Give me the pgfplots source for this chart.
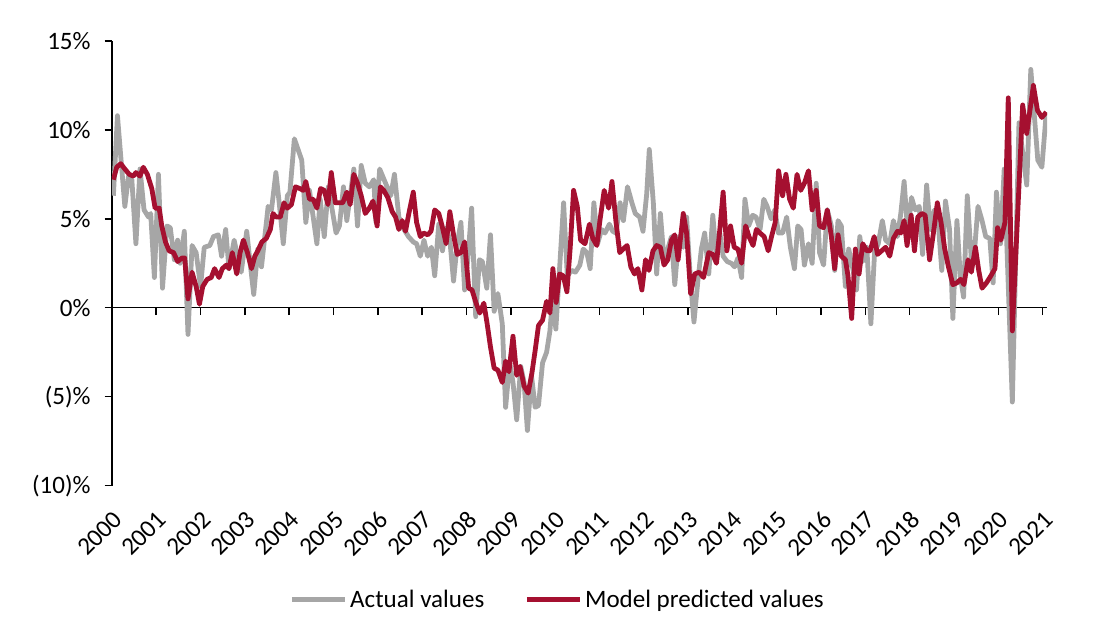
\documentclass[border=0pt]{standalone}
\usepackage{fontspec}
\setmainfont{Carlito}
\usepackage{pgfplots}
\pgfplotsset{compat=1.18}
\usetikzlibrary{calc}
\definecolor{grayline}{RGB}{166,166,166}
\definecolor{redline}{RGB}{165,16,48}
\begin{document}
\begin{tikzpicture}
\begin{axis}[
  scale only axis,
  width=701.9pt, height=333.75pt,
  xmin=0, xmax=253.2, ymin=-10, ymax=15,
  axis y line=left, axis x line=middle,
  every inner x axis line/.append style={-},
  every outer x axis line/.append style={-},
  every inner y axis line/.append style={-},
  every outer y axis line/.append style={-},
  axis line style={black, line width=1.1pt},
  hide obscured x ticks=false, hide obscured y ticks=false,
  xtick={0,12,...,252},
  xticklabels={2000,2001,2002,2003,2004,2005,2006,2007,2008,2009,2010,2011,2012,2013,2014,2015,2016,2017,2018,2019,2020,2021},
  ytick={-10,-5,0,5,10,15},
  yticklabels={(10)\%,(5)\%,0\%,5\%,10\%,15\%},
  tick align=outside,
  major tick length=5.5pt,
  tick style={black, line width=1.1pt},
  tick label style={font=\fontsize{18.8}{22}\selectfont},
  xticklabel style={rotate=45, anchor=north east},
  xticklabel shift=141pt,
  yticklabel style={anchor=east, xshift=-7pt},
  /pgf/number format/assume math mode=true,
  legend style={at={(0.477,-0.256)}, anchor=center, draw=none, fill=none,
    font=\fontsize{18.8}{22}\selectfont, legend columns=2,
    /tikz/every even column/.append style={column sep=28pt}},
  legend cell align=left,
  legend image code/.code={\draw[#1] (0pt,0pt) -- (40pt,0pt);},
]
\coordinate (ll) at (rel axis cs:0,0);
\coordinate (ur) at (rel axis cs:1,1);
\addplot[grayline, line width=3.6pt, line join=round] coordinates {
(0.4,6.3) (1.5,10.8) (2.4,8.5) (3.5,5.7) (4.5,7.4) (5.4,7.2) (6.5,3.6) (7.6,7.8) (8.7,5.5) (9.9,5.1) (10.5,5.3) (11.5,1.7) (12.6,7.5) (13.7,1.1) (14.9,4.6) (15.8,4.5) (16.9,2.7) (17.8,3.8) (18.5,2.5) (19.6,4.3) (20.6,-1.5) (21.7,3.5) (22.8,3.1) (24,1.2) (25,3.4) (26.5,3.5) (27.5,4.0) (28.8,4.1) (29.7,2.9) (30.8,4.4) (31.7,2.2) (33.1,3.8) (34,2.9) (35,2.0) (36.5,4.3) (37.6,2.2) (38.4,0.75) (39.5,3.3) (40.5,2.3) (42.3,5.7) (43.2,5.5) (44.4,7.6) (45.3,5.9) (46.4,3.6) (47.5,6.3) (48.2,6.5) (49.4,9.5) (51.4,8.3) (52.5,4.8) (53.5,6.6) (55.5,3.6) (56.4,6.1) (57.5,4.0) (58.6,6.8) (60.7,4.2) (61.6,4.6) (62.7,6.8) (63.6,4.9) (65.5,7.8) (66.5,4.6) (67.5,8.0) (68.6,7.0) (69.7,6.8) (70.9,7.2) (71.5,4.8) (72.5,7.8) (74.1,7.0) (75.5,6.3) (76.5,7.5) (77.7,5.1) (79.1,4.4) (80.3,4.0) (81.6,3.7) (82.5,3.6) (83.5,2.9) (84.5,3.8) (85.5,2.9) (86.5,3.4) (87.4,1.8) (88.5,4.7) (89.5,3.2) (90.5,4.5) (91.5,3.8) (92.5,1.5) (93.5,3.6) (94.5,4.8) (95.5,1.0) (96.4,2.8) (97.4,5.6) (98.5,-0.5) (99.5,2.7) (100.3,2.6) (101.5,1.1) (102.5,4.1) (103.5,-0.2) (104.5,0.8) (105.7,-0.9) (106.6,-5.6) (107.7,-3.1) (108.6,-4.2) (109.6,-6.3) (110.7,-3.3) (111.6,-4.2) (112.5,-6.9) (113.6,-3.8) (114.6,-5.6) (115.5,-5.5) (116.6,-3.1) (117.7,-2.5) (118.6,-1.3) (119.3,0.5) (120.2,-1.2) (121.3,2.5) (122.3,5.9) (123.3,1.8) (124.5,2.1) (125.5,2.0) (126.7,2.4) (127.6,3.3) (128.6,3.1) (129.5,2.2) (130.5,5.9) (131.5,3.6) (132.6,4.4) (133.5,4.2) (134.7,4.7) (135.6,4.3) (136.5,4.2) (137.6,5.9) (138.5,4.9) (139.6,6.8) (140.8,5.9) (141.7,5.3) (142.9,5.1) (143.8,4.3) (144.8,6.4) (145.5,8.9) (146.6,5.9) (147.5,1.9) (148.5,5.3) (149.5,2.7) (150.5,3.3) (151.5,4.0) (152.4,1.3) (153.5,4.0) (154.7,3.4) (155.6,5.1) (156.7,1.4) (157.6,-0.8) (158.7,1.6) (159.6,3.3) (160.5,4.2) (161.6,1.9) (162.7,5.2) (163.7,2.7) (164.6,4.2) (165.5,2.9) (166.6,2.6) (167.7,2.5) (168.6,2.3) (169.5,2.8) (170.5,1.7) (171.4,6.1) (172.4,4.6) (173.5,5.2) (174.4,5.1) (175.5,4.4) (176.5,6.1) (177.4,5.7) (178.5,5.0) (179.5,5.5) (180.5,4.2) (181.6,4.2) (182.7,5.1) (183.7,3.4) (184.8,2.2) (185.7,4.6) (186.6,4.4) (187.5,2.4) (188.6,3.6) (189.6,2.5) (190.7,7.0) (191.6,3.1) (192.7,2.4) (193.7,5.5) (194.8,4.6) (195.7,2.1) (196.6,4.9) (197.5,4.6) (198.6,1.2) (199.5,3.3) (200.7,2.1) (201.6,1.0) (202.5,4.0) (203.3,2.6) (204.4,3.4) (205.5,-0.9) (206.5,3.1) (207.5,3.6) (208.6,4.9) (209.5,3.8) (210.6,3.6) (211.6,4.9) (212.7,4.0) (213.6,5.3) (214.5,7.1) (215.5,4.2) (216.5,6.2) (217.5,5.5) (218.6,5.7) (219.5,3.0) (220.6,6.9) (221.6,4.4) (222.7,5.5) (223.8,4.6) (224.7,2.1) (225.7,6.0) (226.8,4.4) (227.7,-0.6) (228.8,4.9) (229.7,1.8) (230.6,0.6) (231.6,6.3) (232.7,2.7) (233.6,3.3) (234.5,5.7) (235.6,4.9) (236.6,4.0) (237.7,3.9) (238.6,1.4) (239.5,6.5) (240.6,3.6) (241.6,7.8) (243.8,-5.3) (245.6,10.4) (247.7,6.9) (248.8,13.4) (249.8,10.7) (250.7,8.3) (251.8,7.9) (253,11.0)
};
\addlegendentry{Actual values}
\addplot[redline, line width=3.6pt, line join=round] coordinates {
(0.4,7.2) (1.3,7.9) (2.4,8.1) (3.5,7.8) (4.7,7.5) (5.8,7.4) (6.5,7.6) (7.6,7.4) (8.5,7.9) (9.6,7.5) (10.8,6.7) (11.7,5.6) (12.8,5.6) (13.5,4.6) (14.5,3.7) (15.5,3.2) (16.7,3.1) (17.8,2.6) (19.0,2.8) (19.7,2.8) (20.6,0.5) (21.7,2.0) (22.8,1.2) (23.7,0.2) (24.6,1.2) (25.8,1.6) (26.9,1.7) (27.8,2.2) (29,1.7) (29.9,2.2) (31,2.4) (31.7,2.2) (32.6,3.1) (33.8,1.9) (34.7,3.1) (35.6,3.8) (36.7,3.1) (37.8,2.2) (38.7,2.9) (39.5,3.2) (40.6,3.7) (41.8,3.9) (42.9,4.4) (43.6,5.3) (44.5,5.1) (45.6,5.1) (46.6,5.9) (47.5,5.6) (48.6,5.8) (49.7,6.8) (50.9,6.7) (51.8,6.6) (52.5,7.1) (53.5,6.1) (54.5,6.1) (55.5,5.6) (56.5,6.7) (57.5,6.6) (58.5,5.8) (59.4,7.6) (60.5,5.9) (61.6,5.9) (62.5,5.9) (63.6,6.5) (64.5,5.8) (65.5,7.5) (66.5,7.0) (67.5,6.3) (68.6,5.3) (69.7,5.6) (70.7,6.0) (71.8,4.6) (72.7,6.8) (73.6,6.6) (74.7,6.2) (75.9,5.4) (76.8,5.1) (77.7,4.4) (78.6,4.9) (79.5,4.3) (80.4,5.3) (81.6,6.5) (82.5,4.8) (83.5,4.0) (84.4,4.2) (85.5,4.1) (86.4,4.3) (87.4,5.5) (88.5,5.3) (89.4,4.6) (90.5,3.6) (91.5,5.4) (92.5,4.1) (93.5,3.0) (94.5,3.1) (95.5,3.7) (96.6,1.1) (97.5,1.0) (98.6,0.26) (99.6,-0.3) (100.7,0.26) (101.6,-0.9) (102.5,-2.2) (103.5,-3.4) (104.5,-3.5) (105.7,-4.2) (106.6,-3.0) (107.5,-3.6) (108.6,-1.6) (109.6,-3.8) (110.5,-3.3) (111.6,-4.4) (112.7,-4.8) (113.7,-3.7) (114.6,-2.4) (115.5,-1.0) (116.6,-0.7) (117.7,0.36) (118.6,-0.3) (119.4,2.2) (120.3,0.3) (121.2,1.9) (122.2,1.8) (123.2,0.9) (124.1,3.4) (125.0,6.6) (126,5.7) (126.9,3.8) (128.1,3.6) (129.3,4.7) (130.2,3.9) (131.3,3.5) (132.2,5.0) (133.3,6.6) (134.5,5.6) (135.4,7.1) (136.5,4.8) (137.5,3.1) (138.4,3.3) (139.5,3.5) (140.5,2.3) (141.5,1.9) (142.4,2.2) (143.5,1.0) (144.5,2.7) (145.4,2.1) (146.5,3.2) (147.5,3.5) (148.5,3.4) (149.5,2.4) (150.5,2.7) (151.5,3.8) (152.4,4.1) (153.3,2.7) (154.7,5.3) (155.6,4.2) (156.7,0.8) (157.8,1.9) (159,2.0) (160.2,1.7) (161.6,3.1) (162.7,3.0) (163.7,2.5) (164.6,4.4) (165.5,6.5) (166.5,3.2) (167.5,4.6) (168.5,3.4) (169.5,3.3) (170.5,2.5) (171.6,4.6) (172.5,4.0) (173.6,3.5) (174.5,4.4) (175.5,4.2) (176.6,4.0) (177.7,3.2) (178.6,4.0) (179.6,4.8) (180.5,7.7) (181.6,6.3) (182.5,7.5) (183.5,6.1) (184.5,5.6) (185.5,7.5) (186.5,6.6) (187.5,7.0) (188.6,7.7) (189.6,5.5) (190.7,6.6) (191.6,4.6) (192.7,4.5) (193.7,5.5) (194.8,4.0) (195.7,2.2) (196.6,4.1) (197.5,2.9) (198.6,2.7) (199.3,1.8) (200.3,-0.6) (201.3,3.3) (202.3,1.9) (203.3,3.6) (204.4,3.2) (205.3,3.2) (206.4,4.0) (207.3,3.0) (208.4,3.2) (209.5,3.4) (210.6,2.9) (211.6,3.9) (212.7,4.3) (213.6,4.2) (214.5,4.9) (215.3,3.5) (216.4,5.2) (217.3,3.2) (218.2,5.1) (219.3,5.3) (220.2,5.2) (221.4,2.7) (222.3,4.0) (223.5,5.9) (224.5,4.8) (225.5,3.3) (226.5,2.3) (227.7,1.3) (228.8,1.4) (229.8,1.6) (230.7,1.3) (231.8,2.7) (232.7,2.0) (233.8,3.4) (234.7,2.1) (235.6,1.1) (236.8,1.4) (238,1.8) (239.1,2.2) (239.8,4.5) (240.7,3.8) (241.8,4.8) (242.7,11.8) (243.8,-1.3) (246.6,11.4) (247.7,9.8) (249.5,12.5) (250.6,11.1) (251.8,10.7) (253,11.0)
};
\addlegendentry{Model predicted values}
\end{axis}
\pgfresetboundingbox
\path[use as bounding box] ($(ll)+(-84pt,-108.75pt)$) rectangle ($(ur)+(38.25pt,30.75pt)$);
\end{tikzpicture}
\end{document}
